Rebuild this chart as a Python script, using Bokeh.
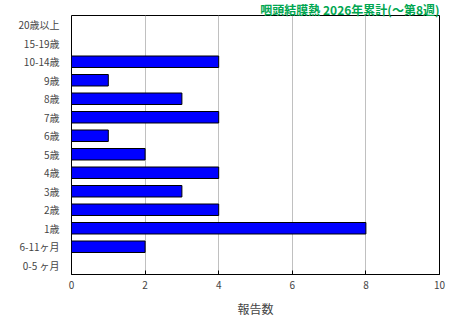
from bokeh.plotting import figure
from bokeh.models import FactorRange, Range1d, Title, FixedTicker
from bokeh.embed import file_html
from bokeh.resources import INLINE

categories = ["20歳以上", "15-19歳", "10-14歳", "9歳", "8歳", "7歳", "6歳",
              "5歳", "4歳", "3歳", "2歳", "1歳", "6-11ヶ月", "0-5 ヶ月"]
counts = [0, 0, 4, 1, 3, 4, 1, 2, 4, 3, 4, 8, 2, 0]
x_ticks = [0, 2, 4, 6, 8, 10]
title_text = "咽頭結膜熱 2026年累計(～第8週)"
x_label = "報告数"

font = "Noto Sans CJK JP"

p = figure(width=460, height=320, output_backend="svg", toolbar_location=None,
           y_range=FactorRange(factors=list(reversed(categories)), range_padding=0),
           x_range=Range1d(0, 10),
           min_border_left=71, min_border_right=21, min_border_top=0, min_border_bottom=46)

p.add_layout(Title(text=title_text, align="right", text_color="#00a650",
                   text_font=font, text_font_size="12px", text_font_style="bold",
                   offset=0, standoff=-4, text_line_height=1.0), "above")

p.hbar(y=categories, right=counts, left=0, height=0.62,
       fill_color="#0000ff", line_color="black", line_width=1)

p.outline_line_color = "black"
p.outline_line_width = 1
p.background_fill_color = "white"
p.border_fill_color = "white"

p.xgrid.ticker = FixedTicker(ticks=x_ticks)
p.xgrid.grid_line_color = "#c0c0c0"
p.ygrid.grid_line_color = None

p.xaxis.ticker = FixedTicker(ticks=x_ticks)
p.xaxis.axis_label = x_label
p.xaxis.axis_label_text_font = font
p.xaxis.axis_label_text_font_size = "12px"
p.xaxis.axis_label_text_font_style = "normal"
p.xaxis.axis_label_standoff = 8
p.xaxis.major_label_text_font = font
p.xaxis.major_label_text_font_size = "10px"
p.xaxis.major_label_standoff = 6
p.xaxis.major_tick_in = 4
p.xaxis.major_tick_out = 0
p.xaxis.minor_tick_line_color = None
p.xaxis.axis_line_color = "black"

p.yaxis.major_label_text_font = font
p.yaxis.major_label_text_font_size = "10px"
p.yaxis.major_tick_line_color = None
p.yaxis.minor_tick_line_color = None
p.yaxis.axis_line_color = None
p.yaxis.major_label_standoff = 6

open("out.html", "w").write(file_html(p, INLINE))
